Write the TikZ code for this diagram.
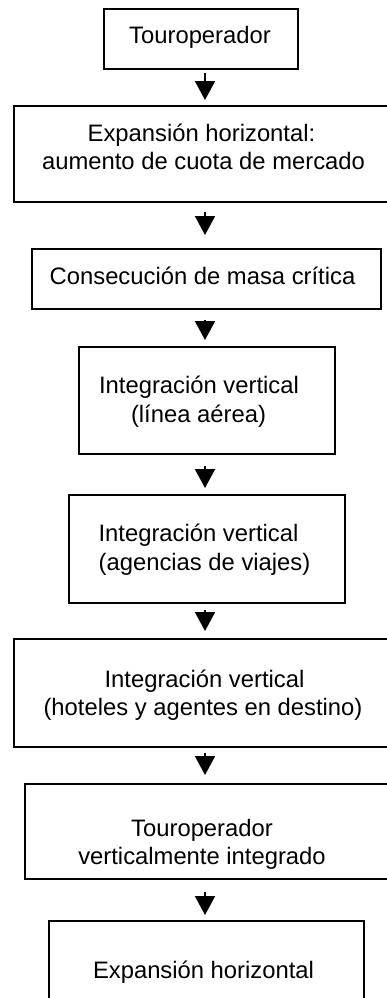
\documentclass[tikz,border=0pt]{standalone}
\usepackage{fontspec}
\setmainfont{Liberation Sans}
\usetikzlibrary{arrows.meta}
\begin{document}
\begin{tikzpicture}[x=1pt,y=-1pt,
  box/.style={draw=black, line width=1.8pt, rectangle, inner sep=0pt, anchor=north west},
  txt/.style={inner sep=0pt, anchor=base, font=\fontsize{23.8}{28}\selectfont},
  arr/.style={line width=2pt, -{Triangle[width=20pt,length=19pt]}}]
\useasboundingbox (0,0) rectangle (387,998);
\fill[white] (0,0) rectangle (387,998);
\clip (0,0) rectangle (387,998);
% boxes
\node[box, minimum width=194pt, minimum height=60pt]  (b1) at (103,8) {};
\node[box, minimum width=380pt, minimum height=96pt]  (b2) at (13,105) {};
\node[box, minimum width=349pt, minimum height=60pt]  (b3) at (31,248) {};
\node[box, minimum width=256pt, minimum height=107pt] (b4) at (78,346) {};
\node[box, minimum width=276pt, minimum height=108pt] (b5) at (68,494) {};
\node[box, minimum width=380pt, minimum height=108pt] (b6) at (13,638) {};
\node[box, minimum width=368pt, minimum height=95pt]  (b7) at (24,783) {};
\node[box, minimum width=315pt, minimum height=95pt]  (b8) at (48,920) {};
% texts
\node[txt] (t1)  at (200,44) {Touroperador};
\node[txt] (t2a) at (201.5,141) {Expansión horizontal:};
\node[txt] (t2b) at (203.5,169) {aumento de cuota de mercado};
\node[txt] (t3)  at (202.5,284) {Consecución de masa crítica};
\node[txt] (t4a) at (199,393) {Integración vertical};
\node[txt] (t4b) at (198.5,422) {(línea aérea)};
\node[txt] (t5a) at (198.5,541) {Integración vertical};
\node[txt] (t5b) at (204.5,570) {(agencias de viajes)};
\node[txt] (t6a) at (204.5,687) {Integración vertical};
\node[txt] (t6b) at (203,715) {(hoteles y agentes en destino)};
\node[txt] (t7a) at (202,836) {Touroperador};
\node[txt] (t7b) at (202,864) {verticalmente integrado};
\node[txt] (t8)  at (203.5,978) {Expansión horizontal};
% arrows
\coordinate (ax) at (205,0);
\draw[arr, shorten <=3pt,  shorten >=5pt]  (b1.south -| ax) -- (b2.north -| ax);
\draw[arr, shorten <=9pt,  shorten >=13pt] (b2.south -| ax) -- (b3.north -| ax);
\draw[arr, shorten <=10pt, shorten >=6pt]  (b3.south -| ax) -- (b4.north -| ax);
\draw[arr, shorten <=11pt, shorten >=6pt]  (b4.south -| ax) -- (b5.north -| ax);
\draw[arr, shorten <=6pt,  shorten >=7pt]  (b5.south -| ax) -- (b6.north -| ax);
\draw[arr, shorten <=5pt,  shorten >=8pt]  (b6.south -| ax) -- (b7.north -| ax);
\draw[arr, shorten <=12pt, shorten >=5pt]  (b7.south -| ax) -- (b8.north -| ax);
\end{tikzpicture}
\end{document}
